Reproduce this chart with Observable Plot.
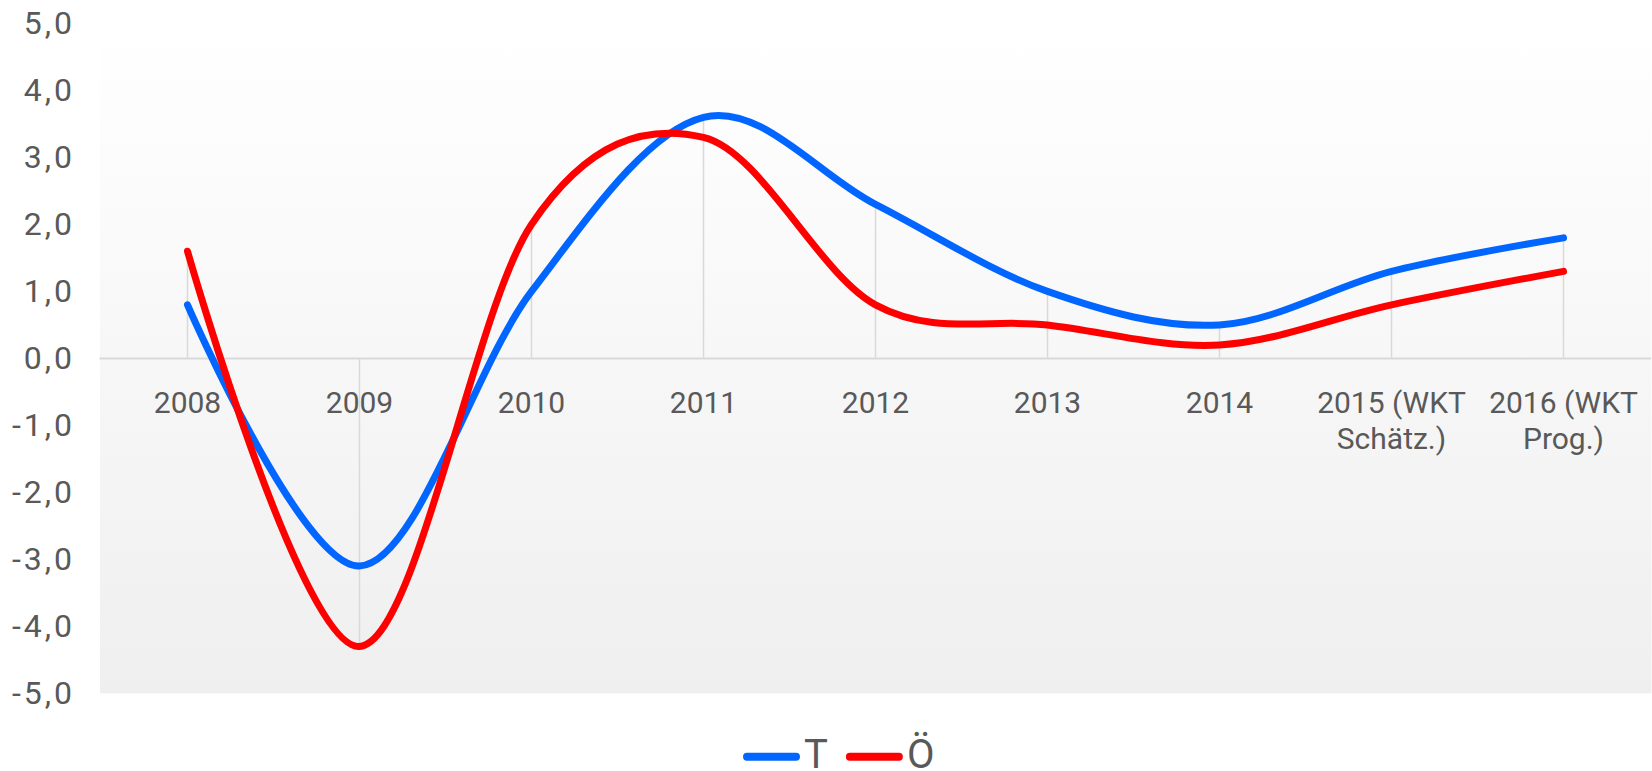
<!DOCTYPE html>
<html>
<head>
<meta charset="utf-8">
<script src="https://cdn.jsdelivr.net/npm/d3@7"></script>
<script src="https://cdn.jsdelivr.net/npm/@observablehq/plot@0.6"></script>
<style>
  html, body { margin: 0; padding: 0; background: #fff; }
  #chart { width: 1652px; height: 771px; overflow: hidden; font-family: Roboto, "Noto Sans", sans-serif; }
  #chart svg { display: block; }
  #chart g[aria-label="y-axis tick label"] text { letter-spacing: 3px; }
</style>
</head>
<body>
<div id="chart"></div>
<script>
// Wirtschaftswachstum (real, % gegenüber Vorjahr): Tirol (T) und Österreich (Ö)
const categories = ["2008", "2009", "2010", "2011", "2012", "2013", "2014", "2015", "2016"];
const tickLabels = ["2008", "2009", "2010", "2011", "2012", "2013", "2014", "2015 (WKT\nSchätz.)", "2016 (WKT\nProg.)"];
const seriesNames = ["T", "Ö"];
const tirol = [0.8, -3.1, 1.0, 3.6, 2.3, 1.0, 0.5, 1.3, 1.8];
const oesterreich = [1.6, -4.3, 2.0, 3.3, 0.8, 0.5, 0.2, 0.8, 1.3];
const yTicks = [-5, -4, -3, -2, -1, 0, 1, 2, 3, 4, 5];

const seriesValues = [tirol, oesterreich];
const colors = ["#0066ff", "#ff0000"];
const textColor = "#595959";
const gridColor = "#d9d9d9";

// long table for the line mark
const rows = seriesNames.flatMap((name, s) =>
  categories.map((c, i) => ({year: c, value: seriesValues[s][i], series: name}))
);

// drop lines run from the axis to the most extreme value of each year
const drops = categories.map((c, i) => {
  const vals = seriesValues.map(v => v[i]);
  const ext = vals.reduce((a, b) => Math.abs(b) > Math.abs(a) ? b : a);
  return {year: c, value: ext};
});

const labelRows = categories.map((c, i) => ({year: c, label: tickLabels[i]}));

// vertical background gradient for the plotting area
const defs = () => {
  const g = d3.create("svg:defs");
  const lg = g.append("linearGradient")
    .attr("id", "plot-bg").attr("x1", 0).attr("y1", 0).attr("x2", 0).attr("y2", 1);
  lg.append("stop").attr("offset", "0%").attr("stop-color", "#ffffff");
  lg.append("stop").attr("offset", "100%").attr("stop-color", "#efefef");
  return g.node();
};

const chart = Plot.plot({
  width: 1652,
  height: 725,
  marginLeft: 99.5,
  marginRight: 1,
  marginTop: 23,
  marginBottom: 32.2,
  style: {fontFamily: "Roboto, 'Noto Sans', sans-serif", fontSize: "30px", color: textColor, background: "transparent"},
  x: {type: "point", domain: categories, padding: 0.5, axis: null},
  y: {domain: [-5, 5], label: null},
  color: {domain: seriesNames, range: colors},
  marks: [
    defs,
    Plot.frame({fill: "url(#plot-bg)", stroke: null}),
    Plot.axisY({
      ticks: yTicks,
      tickFormat: d => d.toFixed(1).replace(".", ","),
      tickSize: 0,
      tickPadding: 25,
      fontSize: 32,
      label: null
    }),
    Plot.ruleX(drops, {x: "year", y1: 0, y2: "value", stroke: gridColor, strokeWidth: 1.5}),
    Plot.ruleY([0], {stroke: gridColor, strokeWidth: 2}),
    Plot.text(labelRows, {
      x: "year", y: 0, text: "label",
      lineAnchor: "top", lineHeight: 1.2, dy: 29,
      fontSize: 30, fill: textColor
    }),
    Plot.line(rows, {
      x: "year", y: "value", z: "series", stroke: "series",
      curve: "cardinal", strokeWidth: 7,
      strokeLinecap: "round", strokeLinejoin: "round"
    })
  ]
});

const root = document.getElementById("chart");
root.appendChild(chart);

// legend below the chart
const legend = d3.select(root).append("svg")
  .attr("width", 1652).attr("height", 46)
  .style("font-family", "Roboto, 'Noto Sans', sans-serif");
let lx = 743;
seriesNames.forEach((name, i) => {
  legend.append("line")
    .attr("x1", lx + 4).attr("x2", lx + 53)
    .attr("y1", 31.7).attr("y2", 31.7)
    .attr("stroke", colors[i]).attr("stroke-width", 8)
    .attr("stroke-linecap", "round");
  const t = legend.append("text")
    .attr("x", lx + 61).attr("y", 42.6)
    .attr("font-size", 40).attr("fill", textColor)
    .text(name);
  lx += 61 + t.node().getComputedTextLength() + 18;
});
</script>
</body>
</html>
